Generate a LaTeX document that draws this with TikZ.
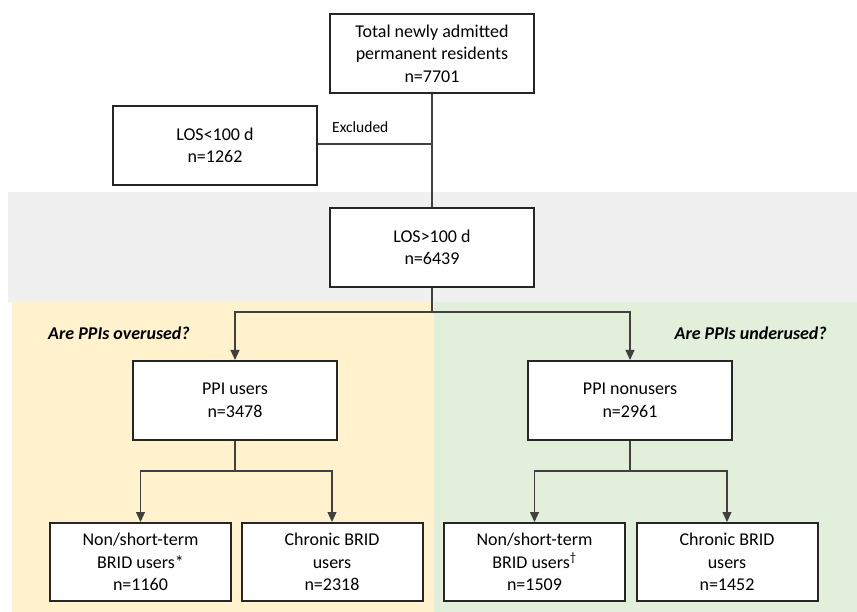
\documentclass[tikz,border=0pt]{standalone}
\usepackage{fontspec}
\setmainfont{Carlito}
\usetikzlibrary{arrows.meta}
\definecolor{bandgray}{HTML}{F0F0F0}
\definecolor{bandyellow}{HTML}{FFF2CC}
\definecolor{bandgreen}{HTML}{E2EFDA}
\definecolor{boxline}{HTML}{262626}
\definecolor{conline}{HTML}{404040}
\tikzset{
  flowbox/.style={draw=boxline, line width=2pt, fill=white, align=center,
    inner sep=2pt, font=\fontsize{18}{22.5}\selectfont},
  bigbox/.style={flowbox, minimum width=204pt, minimum height=79pt},
  smallbox/.style={flowbox, minimum width=181pt, minimum height=78pt},
  conn/.style={draw=conline, line width=1.1pt},
  arr/.style={conn, -{Triangle[width=9pt,length=10pt]}},
  question/.style={font=\fontsize{18}{22}\selectfont\bfseries\itshape, inner sep=0pt},
  smalllabel/.style={font=\fontsize{15.5}{18}\selectfont, inner sep=0pt}
}
\begin{document}
\begin{tikzpicture}[x=1pt,y=-1pt]
\useasboundingbox (0,0) rectangle (857,612);
\fill[white] (0,0) rectangle (857,612);
% background bands
\fill[bandgray] (8,192) rectangle (857,302);
\fill[bandyellow] (12,302) rectangle (434,612);
\fill[bandgreen] (434,302) rectangle (857,612);
% nodes
\node[bigbox] (top) at (432,53.5) {Total newly admitted\\permanent residents\\n=7701};
\node[bigbox] (los1) at (215,145.5) {LOS<100 d\\n=1262};
\node[bigbox] (los2) at (432,247.5) {LOS>100 d\\n=6439};
\node[bigbox, minimum height=79pt] (ppi) at (235,400.5) {PPI users\\n=3478};
\node[bigbox, minimum height=79pt] (non) at (630,400.5) {PPI nonusers\\n=2961};
\node[smallbox] (b1) at (140.5,562) {Non/short-term\\BRID users*\\n=1160};
\node[smallbox] (b2) at (332,562) {Chronic BRID\\users\\n=2318};
\node[smallbox] (b3) at (534.5,562) {Non/short-term\\BRID users\textsuperscript{†}\\n=1509};
\node[smallbox] (b4) at (727,562) {Chronic BRID\\users\\n=1452};
% labels
\node[question, anchor=west] (q1) at (48,333) {Are PPIs overused?};
\node[question, anchor=east] (q2) at (827,333) {Are PPIs underused?};
\node[smalllabel, anchor=west] (exl) at (332,127) {Excluded};
% connectors
\coordinate (ex) at (432,144);
\coordinate (j1) at (432,312);
\coordinate (j2) at (235,471);
\coordinate (j3) at (630,471);
\draw[conn] (top.south) -- (los2.north);
\draw[conn] (ex) -- (los1.east |- ex);
\draw[conn] (los2.south) -- (j1);
\draw[arr] (j1) -| (ppi.north);
\draw[arr] (j1) -| (non.north);
\draw[conn] (ppi.south) -- (j2);
\draw[arr] (j2) -| (b1.north);
\draw[arr] (j2) -| (b2.north);
\draw[conn] (non.south) -- (j3);
\draw[arr] (j3) -| (b3.north);
\draw[arr] (j3) -| (b4.north);
\end{tikzpicture}
\end{document}
